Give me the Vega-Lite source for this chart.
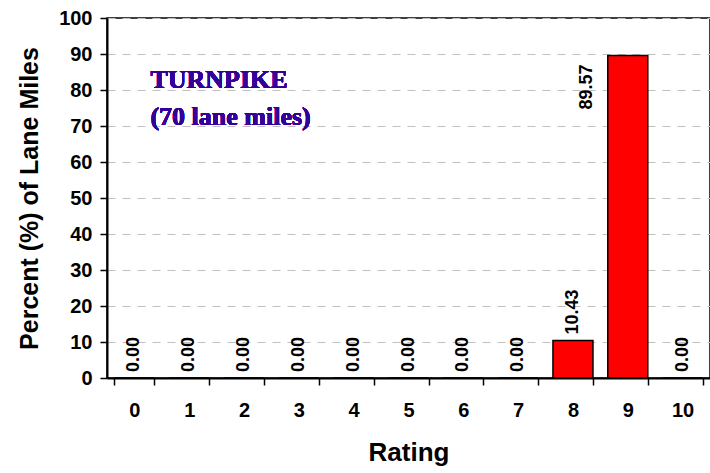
{
  "$schema": "https://vega.github.io/schema/vega-lite/v6.json",
  "autosize": "none",
  "width": 603,
  "height": 360,
  "padding": {"left": 107, "top": 18, "right": 0, "bottom": 95},
  "background": "white",
  "config": {
    "view": {"stroke": "black", "strokeWidth": 1.5},
    "font": "Liberation Sans"
  },
  "data": {
    "values": [
      {"rating": "0", "pct": 0.0},
      {"rating": "1", "pct": 0.0},
      {"rating": "2", "pct": 0.0},
      {"rating": "3", "pct": 0.0},
      {"rating": "4", "pct": 0.0},
      {"rating": "5", "pct": 0.0},
      {"rating": "6", "pct": 0.0},
      {"rating": "7", "pct": 0.0},
      {"rating": "8", "pct": 10.43},
      {"rating": "9", "pct": 89.57},
      {"rating": "10", "pct": 0.0}
    ]
  },
  "encoding": {
    "x": {
      "field": "rating",
      "type": "ordinal",
      "sort": null,
      "scale": {"paddingInner": 0.27, "paddingOuter": 0.135},
      "axis": {
        "title": "Rating",
        "titleFont": "Liberation Sans",
        "titleFontSize": 26,
        "titleFontWeight": "bold",
        "titleColor": "black",
        "titlePadding": 19,
        "labelFont": "Liberation Sans",
        "labelFontSize": 20,
        "labelFontWeight": "bold",
        "labelColor": "black",
        "labelAngle": 0,
        "labelPadding": 15,
        "tickBand": "extent",
        "tickSize": 7,
        "tickColor": "black",
        "tickWidth": 1.5,
        "domainColor": "black",
        "domainWidth": 2,
        "grid": false
      }
    },
    "y": {
      "field": "pct",
      "type": "quantitative",
      "scale": {"domain": [0, 100], "nice": false},
      "axis": {
        "title": "Percent (%) of Lane Miles",
        "titleFont": "Liberation Sans",
        "titleFontSize": 25,
        "titleFontWeight": "bold",
        "titleColor": "black",
        "titlePadding": 16,
        "values": [0, 10, 20, 30, 40, 50, 60, 70, 80, 90, 100],
        "labelFont": "Liberation Sans",
        "labelFontSize": 20,
        "labelFontWeight": "bold",
        "labelColor": "black",
        "labelPadding": 8,
        "tickSize": 7,
        "tickColor": "black",
        "tickWidth": 1.5,
        "domainColor": "black",
        "domainWidth": 2,
        "grid": true,
        "gridColor": "#c0c0c0",
        "gridDash": [8, 7],
        "gridWidth": 1.2
      }
    }
  },
  "layer": [
    {
      "mark": {"type": "bar", "color": "#ff0000", "stroke": "black", "strokeWidth": 1.5}
    },
    {
      "transform": [{"filter": "datum.pct < 50"}],
      "mark": {
        "type": "text",
        "angle": -90,
        "align": "left",
        "baseline": "middle",
        "dx": 6,
        "font": "Liberation Sans",
        "fontWeight": "bold",
        "fontSize": 18,
        "color": "black"
      },
      "encoding": {"text": {"field": "pct", "type": "quantitative", "format": ".2f"}}
    },
    {
      "transform": [{"filter": "datum.pct >= 50"}],
      "mark": {
        "type": "text",
        "angle": -90,
        "align": "right",
        "baseline": "middle",
        "dx": -9,
        "dy": -41,
        "font": "Liberation Sans",
        "fontWeight": "bold",
        "fontSize": 18,
        "color": "black"
      },
      "encoding": {"text": {"field": "pct", "type": "quantitative", "format": ".2f"}}
    },
    {
      "mark": {
        "type": "text",
        "align": "left",
        "baseline": "alphabetic",
        "dx": 16,
        "font": "Liberation Serif",
        "fontWeight": "bold",
        "fontSize": 26,
        "lineHeight": 36.5,
        "color": "#330099"
      },
      "encoding": {
        "x": {"datum": "0"},
        "y": {"datum": 80.5},
        "text": {"value": ["TURNPIKE", "(70 lane miles)"]}
      }
    }
  ]
}
